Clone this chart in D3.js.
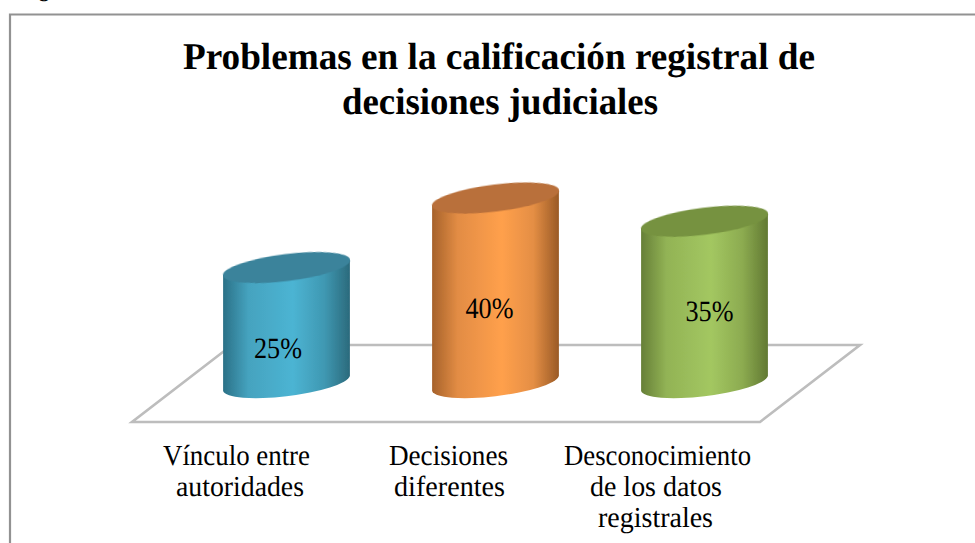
<!DOCTYPE html>
<html><head><meta charset="utf-8">
<script src="https://cdnjs.cloudflare.com/ajax/libs/d3/7.8.5/d3.min.js"></script>
<style>html,body{margin:0;padding:0;background:#fff}svg{display:block}text{font-family:"Liberation Serif",serif;fill:#000;text-rendering:geometricPrecision}</style>
</head><body><svg id="c" width="975" height="543"></svg>
<script>
const categories = ["Vínculo entre autoridades","Decisiones diferentes","Desconocimiento de los datos registrales"];
const values = [25,40,35];
const valueLabels = ["25%","40%","35%"];
const categoryLines = [["Vínculo entre","autoridades"],["Decisiones","diferentes"],["Desconocimiento","de los datos","registrales"]];
const titleLines = ["Problemas en la calificación registral de","decisiones judiciales"];
const sideStops = [["#2b7187","#45a3bf","#4cb4d3","#3f98b2","#2b6a7c"],["#a6622b","#e28c44","#ffa04c","#e48e44","#9a5a26"],["#667f37","#92b355","#a3c761","#8cab50","#617932"]];
const topFills = ["#3a839b","#b9703a","#76923f"];

const svg = d3.select("#c");
const baseY = 383.5;
const x = d3.scaleBand().domain(categories).range([182,809]).padding(0);
const y = d3.scaleLinear().domain([0,40]).range([baseY,198]);
const rx=64, ry=13.5, rot=-7.05, dx=63.4, dy=7.5;

// frame
svg.append("path").attr("d","M10,543V14.5H975").attr("fill","none").attr("stroke","#929292").attr("stroke-width",2.2);
// clipped caption above frame
svg.append("text").attr("x",18).attr("y",-4).attr("font-size",24).text("Figura");

// floor
svg.append("path").attr("d","M132,422H760L860,345H232Z").attr("fill","#fff").attr("stroke","#bdbdbd").attr("stroke-width",2.6).attr("stroke-linejoin","miter");

// gradients and softening
const defs = svg.append("defs");
defs.append("filter").attr("id","soft").append("feGaussianBlur").attr("stdDeviation",0.6);
sideStops.forEach((s,i)=>{
  const g = defs.append("linearGradient").attr("id","g"+i).attr("x1",0).attr("x2",1).attr("y1",0).attr("y2",0);
  [[0,s[0]],[.2,s[1]],[.55,s[2]],[.8,s[3]],[1,s[4]]].forEach(([o,c])=>g.append("stop").attr("offset",o).attr("stop-color",c));
});

// bars
const bars = svg.selectAll("g.bar").data(categories).join("g").attr("class","bar");
bars.append("path")
  .attr("fill",(d,i)=>`url(#g${i})`).attr("filter","url(#soft)")
  .attr("d",(d,i)=>{
    const cx=x(d)+x.bandwidth()/2, t=y(values[i]), b=y(0);
    return `M${cx-dx},${t+dy}L${cx-dx},${b+dy}A${rx},${ry} ${rot} 0 0 ${cx+dx},${b-dy}L${cx+dx},${t-dy}Z`;
  });
bars.append("ellipse")
  .attr("fill",(d,i)=>topFills[i]).attr("filter","url(#soft)")
  .attr("rx",rx).attr("ry",ry)
  .attr("transform",(d,i)=>`translate(${x(d)+x.bandwidth()/2},${y(values[i])}) rotate(${rot})`);
bars.append("text")
  .attr("x",(d,i)=>x(d)+x.bandwidth()/2+[-8.5,-6,5][i])
  .attr("y",(d,i)=>[358,318,321][i])
  .attr("text-anchor","middle").attr("font-size",29.5)
  .attr("textLength",48).attr("lengthAdjust","spacingAndGlyphs")
  .text((d,i)=>valueLabels[i]);

// category labels
const lab = svg.selectAll("g.lab").data(categories).join("g").attr("class","lab");
lab.each(function(d,i){
  d3.select(this).selectAll("text").data(categoryLines[i]).join("text")
    .attr("x",(l,j)=>[[236.5,240],[448.5,449.5],[657.5,656,655.5]][i][j])
    .attr("y",(l,j)=>464.5+j*31)
    .attr("text-anchor","middle").attr("font-size",29)
    .attr("textLength",(l,j)=>[[147,128],[119,111],[187,132,115]][i][j])
    .attr("lengthAdjust","spacingAndGlyphs")
    .text(l=>l);
});

// title
svg.selectAll("text.t").data(titleLines).join("text").attr("class","t")
  .attr("x",(d,i)=>[499,500][i]).attr("y",(d,i)=>[69,114][i])
  .attr("text-anchor","middle").attr("font-size",38).attr("font-weight","bold")
  .attr("textLength",(d,i)=>[632,316][i]).attr("lengthAdjust","spacingAndGlyphs")
  .text(d=>d);
</script></body></html>
